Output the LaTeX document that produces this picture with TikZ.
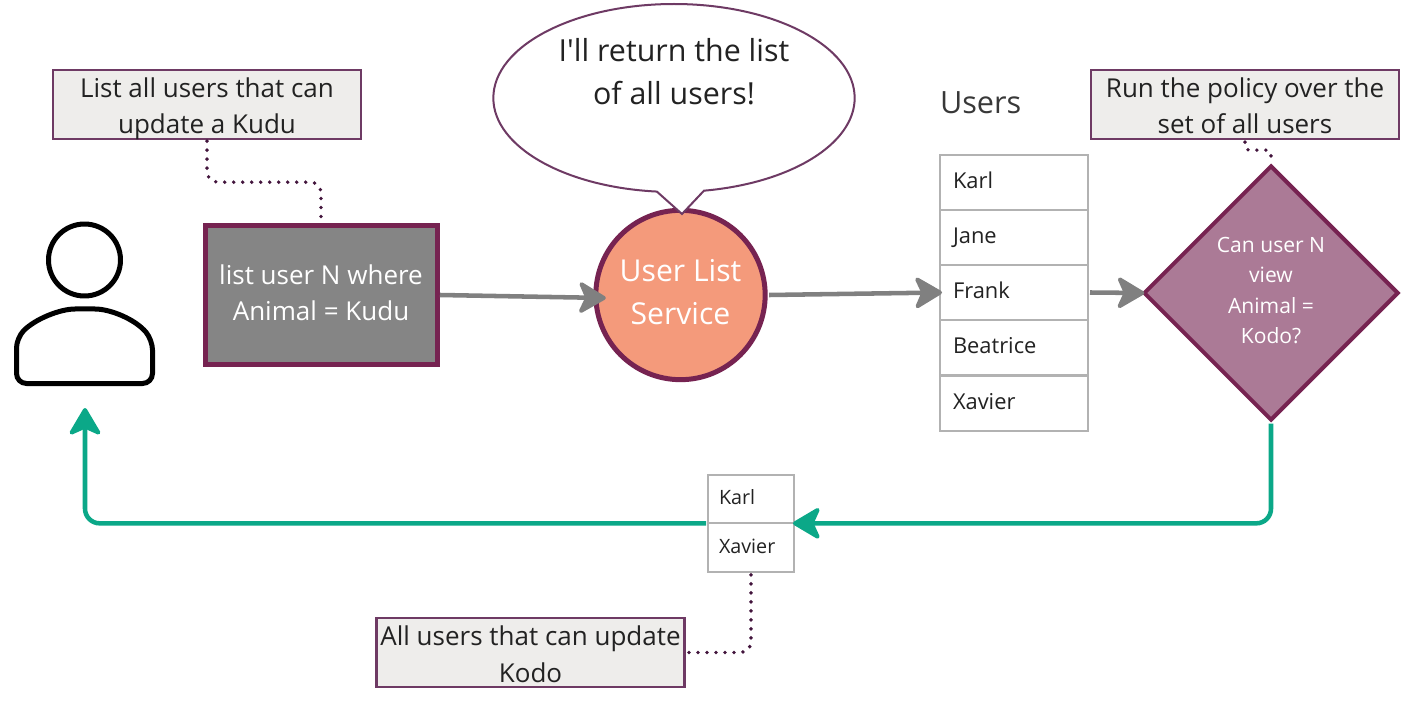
\documentclass[tikz,border=0pt]{standalone}
\usepackage{fontspec}
\setmainfont{Open Sans}
\newfontfamily\rawfont{Open Sans}
\usetikzlibrary{arrows.meta,calc,shapes.geometric,shapes.callouts}
\definecolor{thinborder}{HTML}{6E3A64}
\definecolor{thickborder}{HTML}{762351}
\definecolor{notefill}{HTML}{EEEDEB}
\definecolor{greyfill}{HTML}{858585}
\definecolor{salmon}{HTML}{F49A7B}
\definecolor{mauve}{HTML}{AB7A96}
\definecolor{tableline}{HTML}{B2B2B2}
\definecolor{ink}{HTML}{222222}
\definecolor{flowgrey}{HTML}{808080}
\definecolor{flowgreen}{HTML}{0BA888}
\definecolor{dotcolor}{HTML}{42143C}
\newcommand\padded[3]{\rule{0pt}{#1}#3\rule[-#2]{0pt}{0pt}}
\tikzset{
  x=0.75pt,y=-0.75pt,
  every node/.style={outer sep=0pt,inner sep=0pt},
  notebox/.style={draw=thinborder,fill=notefill,line width=1.9pt,text=ink,align=center,
    font=\fontsize{19.5}{27.2}\selectfont},
  querybox/.style={draw=thickborder,fill=greyfill,line width=3.75pt,text=white,align=center,
    minimum width=174pt,minimum height=103.5pt,font=\fontsize{19.5}{27}\selectfont},
  svcnode/.style={circle,draw=thickborder,fill=salmon,line width=3.75pt,text=white,align=center,
    minimum size=127pt,font=\fontsize{22.6}{32.3}\selectfont},
  bubble/.style={ellipse callout,draw=thinborder,fill=white,line width=1.5pt,text=ink,align=center,
    minimum width=271pt,minimum height=141pt,callout pointer arc=15,
    font=\rawfont\fontsize{22.8}{32.3}\selectfont},
  policy/.style={diamond,draw=thickborder,fill=mauve,line width=3pt,text=white,align=center,
    minimum width=190pt,minimum height=190pt,font=\fontsize{15.8}{22.8}\selectfont},
  bigrow/.style={draw=tableline,fill=white,line width=1.5pt,text=ink,align=left,
    minimum height=41.25pt,text width=91.5pt,inner xsep=9.75pt,
    text height=13pt,text depth=3.5pt,font=\fontsize{16.4}{22}\selectfont},
  smallrow/.style={draw=tableline,fill=white,line width=1.5pt,text=ink,align=left,
    minimum height=36.5pt,text width=48pt,inner xsep=8.25pt,
    text height=11.5pt,text depth=3pt,font=\fontsize{14.8}{20}\selectfont},
  heading/.style={text=ink!90!white,font=\fontsize{23}{28}\selectfont},
  flowhead/.style={-{Stealth[length=23pt,width=27pt,inset=6pt,round,line width=3pt]}},
  greyarrow/.style={draw=flowgrey,line width=3.4pt,flowhead},
  greenarrow/.style={draw=flowgreen,line width=3.4pt,rounded corners=11pt,flowhead},
  dotted link/.style={draw=dotcolor,line width=2.9pt,line cap=round,
    dash pattern=on 0pt off 6.75pt,rounded corners=8pt},
  persona/.style={draw=black,line width=3.75pt,line join=round},
}
\begin{document}
\begin{tikzpicture}
\useasboundingbox (0,0) rectangle (1415,706);

% person
\node[circle,persona,minimum size=54pt] (head) at (84.5,260) {};
\draw[persona,rounded corners=7.5pt]
  (16.5,338) .. controls (35,319) and (60,309) .. (85,309)
  .. controls (110,309) and (135,319) .. (152.5,340)
  -- (152.5,383.5) -- (16.5,383.5) -- cycle;
\coordinate (person) at (85,408);

% main flow nodes
\node[notebox,minimum width=231pt,minimum height=52pt] (note1) at (207,104.5) {\padded{20.9pt}{3.85pt}{List all users that can\\\smash{update a Kudu}}};
\node[querybox] (query) at (321,295) {\padded{17pt}{6pt}{list user N where\\Animal = Kudu}};
\node[svcnode] (svc) at (680.5,295) {\padded{18pt}{6.3pt}{User List\\Service}};
\node[bubble,callout absolute pointer={(682,214)}] (bubble) at (674,98) {I'll return the list\\of all users!\\[8pt]\mbox{}};
\node[heading,anchor=west] (usershead) at (940,103) {Users};

% users table
\node[bigrow] (r1) at (1014,182.5) {Karl};
\node[bigrow] (r2) at (1014,237.5) {Jane};
\node[bigrow] (r3) at (1014,292.5) {Frank};
\node[bigrow] (r4) at (1014,347.5) {Beatrice};
\node[bigrow] (r5) at (1014,403) {Xavier};

\node[notebox,minimum width=231pt,minimum height=52pt] (note2) at (1245,104.5) {\padded{20.9pt}{3.85pt}{Run the policy over the\\set of all users}};
\node[policy] (policy) at (1271,293) {\padded{13pt}{5.5pt}{Can user N\\view\\Animal =\\Kodo?}};

% result table
\node[smallrow] (k) at (751,499) {Karl};
\node[smallrow] (x) at (751,547.5) {Xavier};
\node[notebox,minimum width=231pt,minimum height=52pt] (note3) at (530.5,652.5) {\padded{20.9pt}{3.85pt}{All users that can update\\Kodo}};

% grey flow
\draw[greyarrow] ($(query.east)+(3,0)$) -- ($(svc.west)+(10,3)$);
\draw[greyarrow] ($(svc.east)+(4,0)$) -- ($(r3.west)+(2,0)$);
\draw[greyarrow] ($(r3.east)+(2,0)$) -- (policy.west);

% green flow
\draw[greenarrow] ($(policy.south)+(0,4)$) |- ($(k.south east)+(-1,0)$);
\draw[greenarrow] ($(k.south west)+(-2,0)$) -| (person);

% dotted links
\draw[dotted link] ($(note1.south)+(0,2)$) -- ++(0,41) -| ($(query.north)+(0,-7)$);
\draw[dotted link,rounded corners=3pt] ($(note2.south)+(0,3)$) -- ++(0,8) -| ($(policy.north)+(0,-8)$);
\draw[dotted link] ($(x.south)+(0,3)$) |- ($(note3.east)+(2,0)$);
\end{tikzpicture}
\end{document}
